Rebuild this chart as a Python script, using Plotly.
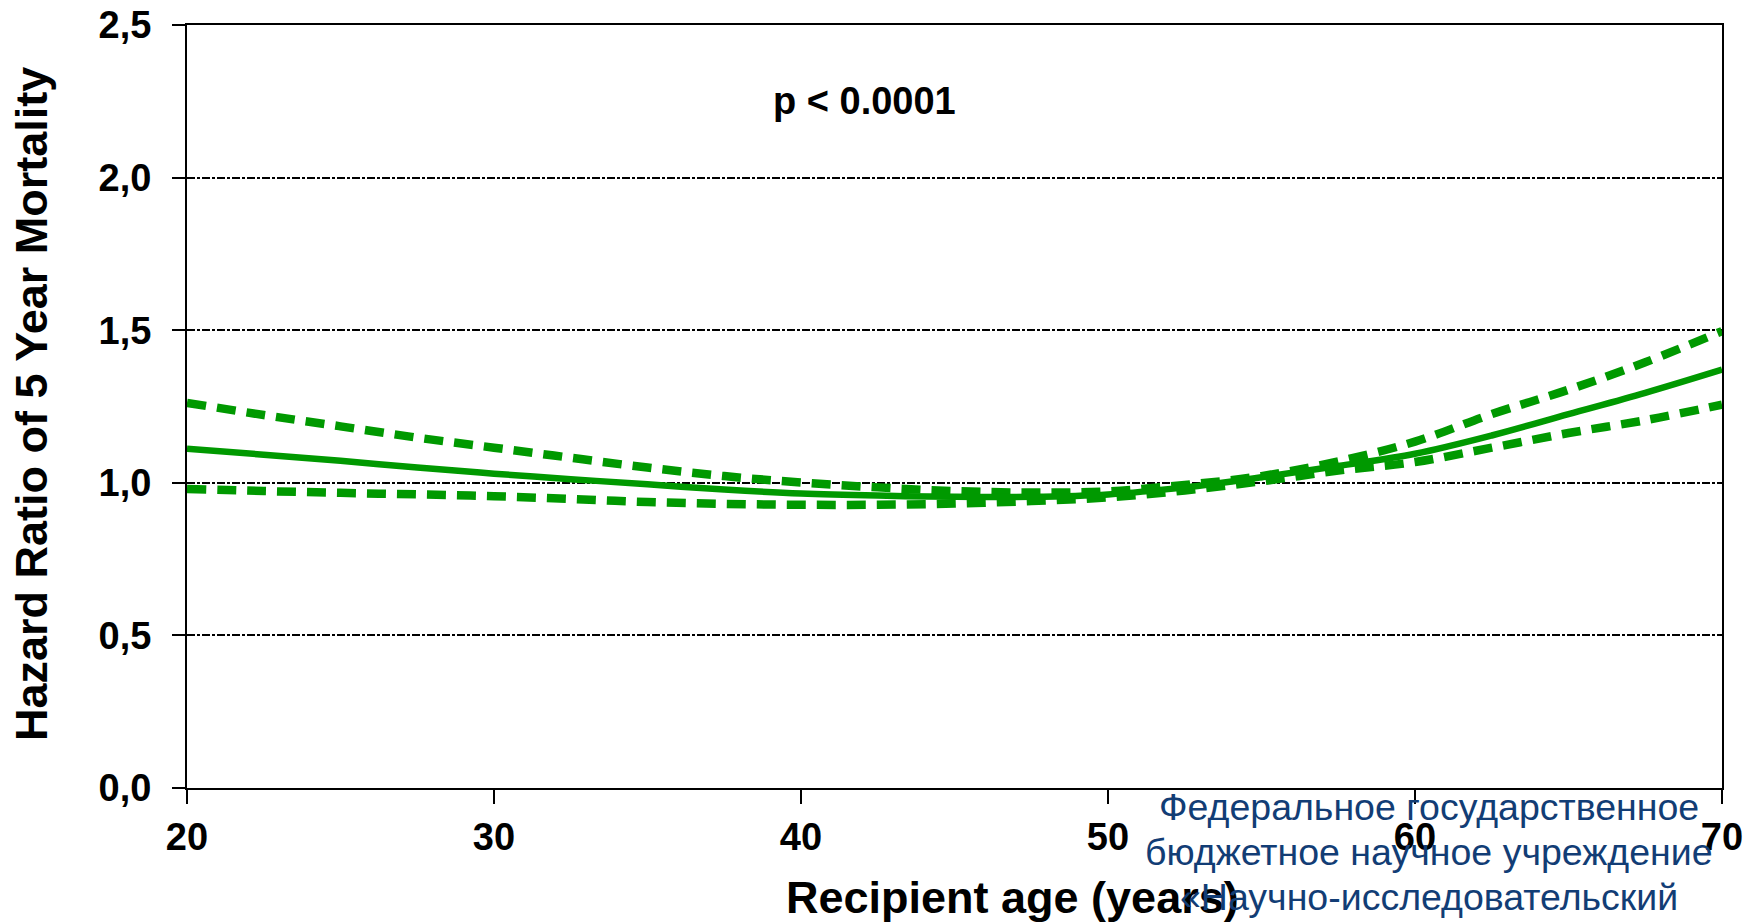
import plotly.graph_objects as go

# ---- data ----
ages = [20, 22.5, 25, 27.5, 30, 32.5, 35, 37.5, 40, 42.5, 45, 47.5, 50,
        52.5, 55, 57.5, 60, 62.5, 65, 67.5, 70]
hr = [1.112, 1.092, 1.072, 1.050, 1.030, 1.012, 0.995, 0.978, 0.965, 0.958,
      0.954, 0.954, 0.962, 0.985, 1.018, 1.055, 1.095, 1.155, 1.225, 1.295, 1.371]
hr_upper = [1.262, 1.222, 1.185, 1.148, 1.115, 1.082, 1.050, 1.022, 1.001, 0.985,
            0.973, 0.968, 0.972, 0.993, 1.022, 1.070, 1.135, 1.225, 1.305, 1.395, 1.497]
hr_lower = [0.980, 0.973, 0.967, 0.962, 0.956, 0.947, 0.937, 0.931, 0.928, 0.928,
            0.932, 0.940, 0.952, 0.975, 1.005, 1.040, 1.068, 1.115, 1.163, 1.205, 1.256]

x_ticks = [20, 30, 40, 50, 60, 70]
y_ticks = [0.0, 0.5, 1.0, 1.5, 2.0, 2.5]
y_ticklabels = ["0,0", "0,5", "1,0", "1,5", "2,0", "2,5"]

x_title = "Recipient age (years)"
y_title = "Hazard Ratio of 5 Year Mortality"
p_text = "p < 0.0001"
watermark = ["Федеральное государственное",
             "бюджетное научное учреждение",
             "«Научно-исследовательский"]

GREEN = "#009900"
FONT = "Liberation Sans, Arial, sans-serif"

fig = go.Figure()
fig.add_trace(go.Scatter(x=ages, y=hr_upper, mode="lines",
                         line=dict(color=GREEN, width=8.5, dash="19px,11px", shape="spline"),
                         showlegend=False, hoverinfo="skip"))
fig.add_trace(go.Scatter(x=ages, y=hr_lower, mode="lines",
                         line=dict(color=GREEN, width=8.5, dash="19px,11px", shape="spline"),
                         showlegend=False, hoverinfo="skip"))
fig.add_trace(go.Scatter(x=ages, y=hr, mode="lines",
                         line=dict(color=GREEN, width=6.5, shape="spline"),
                         showlegend=False, hoverinfo="skip"))

L, R, T, B = 187, 36, 25, 134
W, H = 1758, 922
pw = W - L - R
ph = H - T - B

def px_to_paper_x(px):
    return (px - L) / pw

def px_to_paper_y(py):
    return (H - B - py) / ph

fig.update_layout(
    width=W, height=H,
    margin=dict(l=L, r=R, t=T, b=B, autoexpand=False),
    paper_bgcolor="white", plot_bgcolor="white",
    font=dict(family=FONT, color="black"),
    xaxis=dict(range=[20, 70], tickvals=x_ticks, ticktext=[str(v) for v in x_ticks],
               showgrid=False, zeroline=False, automargin=False,
               showline=True, linecolor="black", linewidth=2, mirror=True,
               ticks="outside", ticklen=14, tickwidth=2, tickcolor="black",
               tickfont=dict(family=FONT, size=38, color="black", weight="bold"),
               ticklabelstandoff=0),
    yaxis=dict(range=[0, 2.5], tickvals=y_ticks, ticktext=y_ticklabels,
               showgrid=True, gridcolor="black", gridwidth=1.5, griddash="8px,2px,3px,2px",
               zeroline=False, automargin=False,
               showline=True, linecolor="black", linewidth=2, mirror=True,
               ticks="outside", ticklen=13, tickwidth=2, tickcolor="black",
               tickfont=dict(family=FONT, size=38, color="black", weight="bold"),
               ticklabelstandoff=13),
)

annotations = [
    dict(text=y_title, xref="paper", yref="paper",
         x=px_to_paper_x(31), y=px_to_paper_y(404), textangle=-90,
         xanchor="center", yanchor="middle", showarrow=False,
         font=dict(family=FONT, size=45, color="black", weight="bold")),
    dict(text=x_title, xref="paper", yref="paper",
         x=px_to_paper_x(1013), y=px_to_paper_y(897),
         xanchor="center", yanchor="middle", showarrow=False,
         font=dict(family=FONT, size=45, color="black", weight="bold")),
    dict(text=p_text, xref="paper", yref="paper",
         x=px_to_paper_x(864), y=px_to_paper_y(101),
         xanchor="center", yanchor="middle", showarrow=False,
         font=dict(family=FONT, size=38, color="black", weight="bold")),
]
for line, py in zip(watermark, [807, 852, 897]):
    annotations.append(dict(text=line, xref="paper", yref="paper",
                            x=px_to_paper_x(1429), y=px_to_paper_y(py),
                            xanchor="center", yanchor="middle", showarrow=False,
                            font=dict(family=FONT, size=37.5, color="#123D75")))
fig.update_layout(annotations=annotations)

fig.write_html("out.html")
